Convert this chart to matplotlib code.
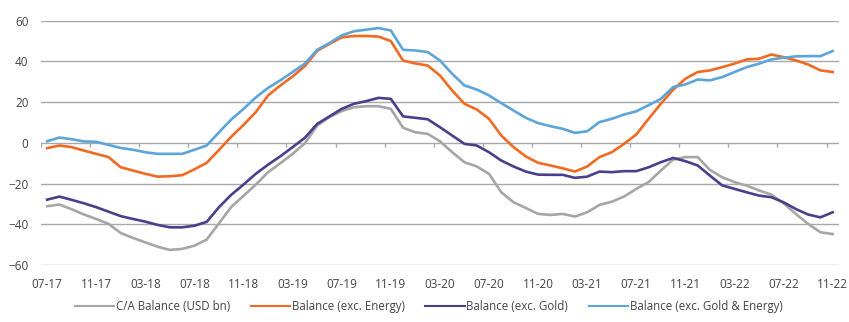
import numpy as np
import matplotlib
matplotlib.use("Agg")
import matplotlib.pyplot as plt

# monthly data, 07-17 .. 11-22 (USD bn, 12m rolling)
months = ["07-17", "11-17", "03-18", "07-18", "11-18", "03-19", "07-19", "11-19",
          "03-20", "07-20", "11-20", "03-21", "07-21", "11-21", "03-22", "07-22", "11-22"]

ca_balance = [-31.1, -30.3, -32.6, -35.2, -37.4, -39.8, -44.3, -46.7, -48.9, -51.0,
              -52.6, -52.1, -50.5, -47.5, -39.5, -31.5, -26.0, -20.5, -14.4, -10.0,
              -5.4, -0.2, 8.5, 12.6, 15.6, 17.5, 18.0, 18.0, 16.7, 7.4,
              5.2, 4.4, 0.8, -4.6, -9.5, -11.6, -15.2, -24.3, -29.2, -32.0,
              -34.9, -35.4, -34.9, -36.2, -34.1, -30.5, -28.9, -26.4, -22.6, -19.3,
              -13.6, -8.2, -7.0, -7.0, -13.3, -16.9, -19.3, -21.0, -23.4, -25.4,
              -29.7, -34.9, -39.8, -43.9, -44.8]

exc_energy = [-2.6, -1.3, -2.1, -3.8, -5.4, -7.0, -12.0, -13.6, -15.2, -16.6,
              -16.4, -15.9, -13.0, -9.8, -3.5, 3.0, 8.8, 15.1, 23.3, 28.2,
              32.6, 37.7, 45.2, 48.6, 51.8, 52.5, 52.5, 52.2, 50.0, 40.4,
              39.0, 38.0, 33.1, 25.7, 19.2, 16.4, 11.8, 3.6, -2.1, -6.7,
              -9.8, -11.1, -12.5, -14.1, -11.6, -7.0, -4.6, -0.5, 4.1, 11.8,
              19.2, 26.1, 31.5, 34.8, 35.6, 37.2, 38.9, 41.0, 41.3, 43.4,
              42.1, 40.5, 38.5, 35.6, 34.8]

exc_gold = [-27.9, -26.4, -28.0, -29.7, -31.6, -33.8, -36.0, -37.4, -38.7, -40.3,
            -41.5, -41.5, -40.7, -38.8, -31.6, -25.5, -20.5, -15.2, -10.7, -6.6,
            -2.1, 2.5, 9.3, 13.0, 16.7, 19.2, 20.5, 22.1, 21.6, 13.0,
            12.3, 11.6, 7.7, 3.6, -0.5, -1.3, -4.6, -8.7, -11.6, -14.1,
            -15.6, -15.7, -15.7, -17.2, -16.6, -14.1, -14.4, -13.9, -13.9, -12.0,
            -9.5, -7.4, -9.0, -11.1, -16.1, -20.9, -22.6, -24.3, -25.9, -26.7,
            -29.2, -32.5, -35.2, -36.6, -34.1]

exc_gold_energy = [0.8, 2.6, 1.8, 0.7, 0.5, -1.0, -2.5, -3.4, -4.6, -5.4,
                   -5.4, -5.4, -3.4, -1.3, 5.2, 11.5, 16.7, 22.3, 27.0, 30.7,
                   34.8, 38.9, 45.7, 49.0, 52.8, 54.8, 55.6, 56.4, 55.2, 45.7,
                   45.4, 44.6, 40.5, 33.9, 28.2, 26.2, 23.3, 19.5, 15.9, 12.3,
                   9.7, 8.2, 6.9, 4.9, 5.7, 10.2, 11.8, 13.9, 15.5, 18.5,
                   21.6, 27.4, 28.7, 31.1, 30.7, 32.3, 34.8, 37.2, 38.9, 41.0,
                   41.8, 42.5, 42.6, 42.6, 45.1]

labels = ["C/A Balance (USD bn)", "Balance (exc. Energy)",
          "Balance (exc. Gold)", "Balance (exc. Gold & Energy)"]
colors = ["#a6a6a6", "#f26a21", "#4a3f8c", "#5ca5da"]

plt.rcParams['font.family'] = ['Open Sans', 'DejaVu Sans']

fig = plt.figure(figsize=(8.49, 3.22), dpi=100)
ax = fig.add_axes([0.0483, 0.177, 0.9397, 0.7587])

x = np.arange(len(ca_balance))
series = [ca_balance, exc_energy, exc_gold, exc_gold_energy]
for ys, lab, col in zip(series, labels, colors):
    ax.plot(x, ys, color=col, lw=1.9, label=lab, solid_joinstyle='round')

ax.set_xlim(-0.5, len(x) - 0.5)
ax.set_ylim(-60, 60)
ax.set_yticks(np.arange(-60, 61, 20))
ax.grid(axis='y', color='#a8a8a8', lw=1.0)
ax.set_axisbelow(True)
for s in ax.spines.values():
    s.set_visible(False)

tick_pos = np.arange(0, len(x), 4)
ax.set_xticks(tick_pos)
ax.set_xticklabels(months)
ax.tick_params(axis='x', length=0, pad=9, labelsize=8.5, colors='#444444')
ax.tick_params(axis='y', length=0, pad=9, labelsize=8.5, colors='#444444')

# small tick marks on the zero line, between categories
ax.vlines(tick_pos - 0.5, 0, -2, color='#a8a8a8', lw=1.0)

leg = fig.legend(loc='lower center', bbox_to_anchor=(0.505, -0.005), ncol=4,
                 frameon=False, handlelength=3.4, handletextpad=0.15,
                 columnspacing=1.8, fontsize=8.3, labelcolor='#444444')
for h in leg.get_lines():
    h.set_linewidth(1.5)

fig.savefig("out.png", dpi=100)
